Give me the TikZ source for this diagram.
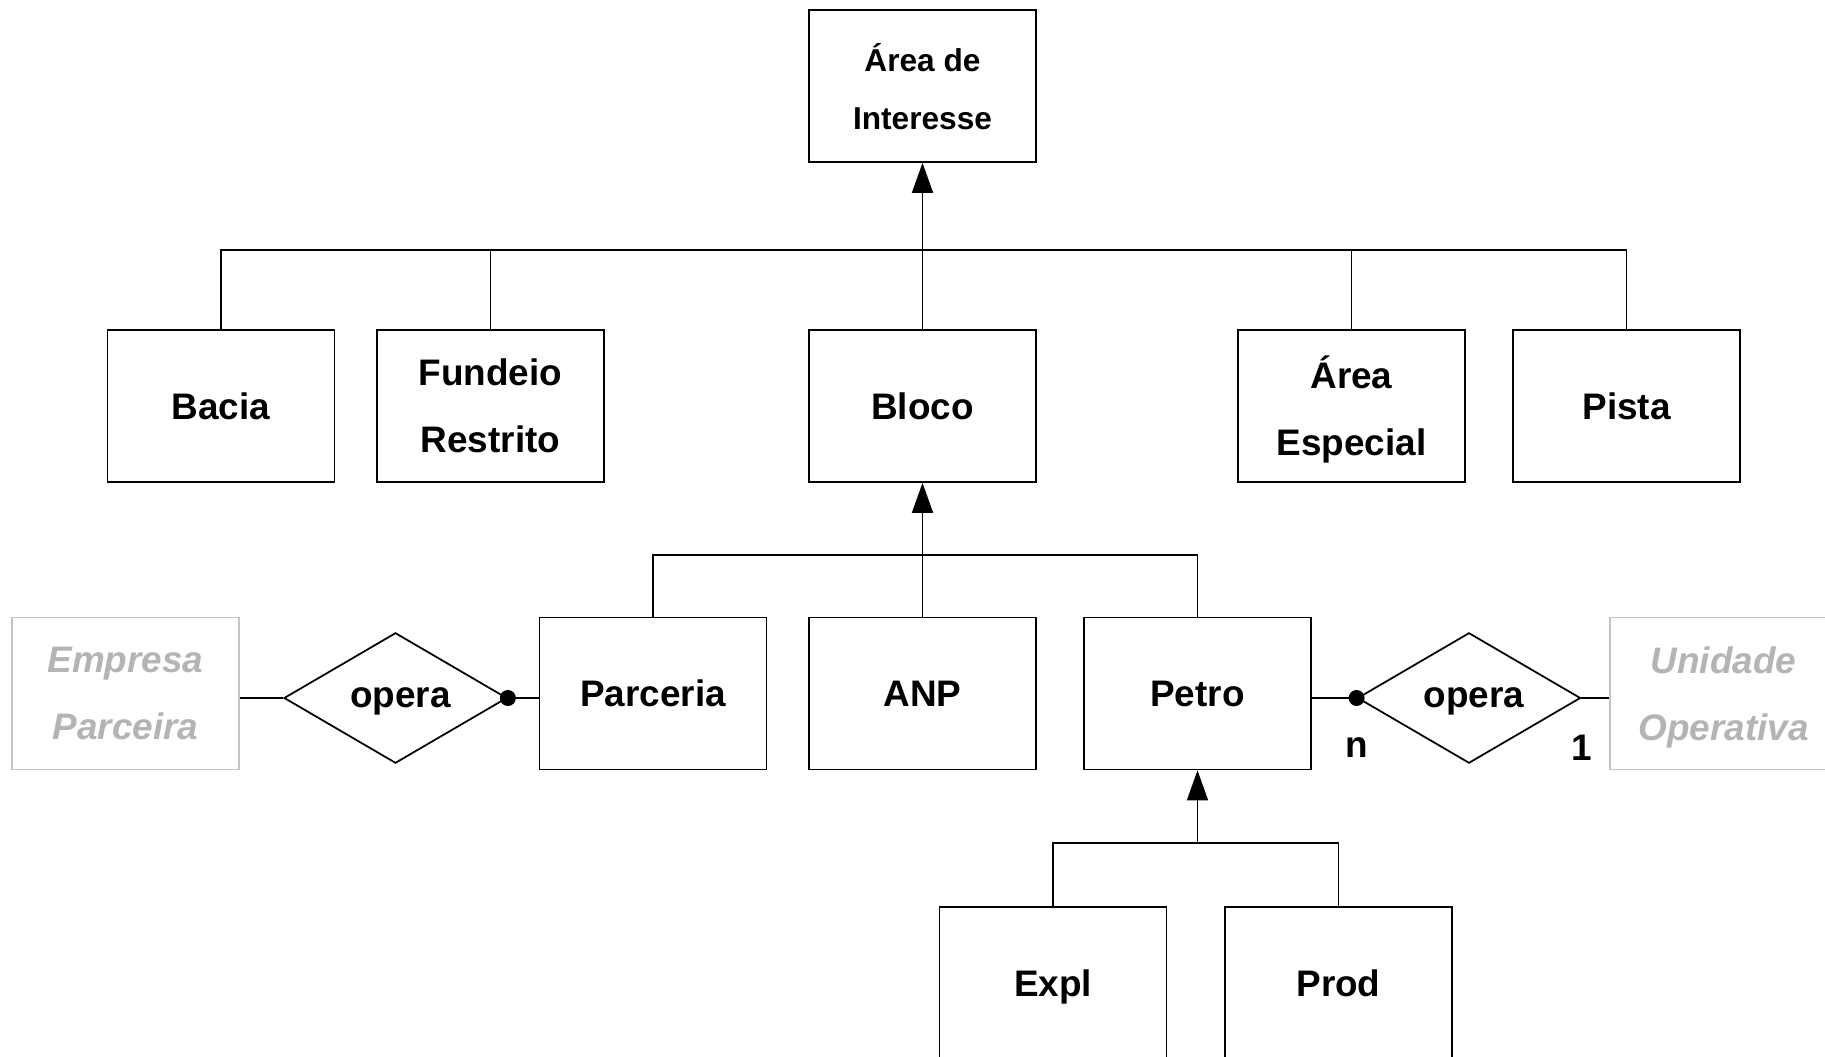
\documentclass[tikz,border=0pt]{standalone}
\usepackage{fontspec}
\setmainfont{Liberation Sans}
\usetikzlibrary{arrows.meta,shapes.geometric}
\definecolor{ghosttext}{HTML}{B4B4B4}
\definecolor{ghostline}{HTML}{C4C4C4}

\begin{document}
\begin{tikzpicture}[
    line width=1pt,
    entity/.style={draw, minimum width=4.54cm, minimum height=3.04cm, align=center, text depth=0pt,
      font=\bfseries\fontsize{21}{38}\selectfont},
    ghost/.style={entity, draw=ghostline, text=ghosttext,
      font=\bfseries\itshape\fontsize{21}{38}\selectfont},
    relation/.style={draw, diamond, minimum width=4.46cm, minimum height=2.56cm, inner sep=0pt,
      text depth=0pt, font=\bfseries\fontsize{21}{25}\selectfont},
    isa/.style={-{Triangle[length=0.6cm, width=0.42cm]}},
    card/.style={font=\bfseries\fontsize{21}{25}\selectfont},
    dot/.style={circle, fill=black, inner sep=0pt, minimum size=0.32cm}
  ]
  \useasboundingbox (0, 0) rectangle (36.5, 21.12);

  \node[entity, font=\bfseries\fontsize{18}{33}\selectfont] (area) at (18.45, 19.40) {Área de\\Interesse};

  \node[entity] (bacia) at (4.42, 13) {Bacia};
  \node[entity] (fundeio) at (9.81, 13) {Fundeio\\Restrito};
  \node[entity] (bloco) at (18.45, 13) {Bloco};
  \node[entity] (especial) at (27.03, 13) {Área\\Especial};
  \node[entity] (pista) at (32.53, 13) {Pista};

  \node[ghost] (empresa) at (2.51, 7.25) {Empresa\\Parceira};
  \node[relation] (opera1) at (7.91, 7.16) {\hspace{0.2cm}opera};
  \node[entity] (parceria) at (13.06, 7.25) {Parceria};
  \node[entity] (anp) at (18.45, 7.25) {ANP};
  \node[entity] (petro) at (23.95, 7.25) {Petro};
  \node[relation] (opera2) at (29.38, 7.16) {\hspace{0.2cm}opera};
  \node[ghost] (unidade) at (34.47, 7.25) {Unidade\\Operativa};

  \node[entity] (expl) at (21.06, 1.46) {Expl};
  \node[entity] (prod) at (26.77, 1.46) {Prod};

  \coordinate (bus1) at (18.45, 16.12);
  \coordinate (bus2) at (18.45, 10.02);
  \coordinate (bus3) at (23.95, 4.26);

  % generalisation buses
  \draw[isa] (bloco.north) -- (area.south);
  \draw (bacia.north) |- (bus1) -| (pista.north);
  \draw (fundeio.north) -- (fundeio.north |- bus1);
  \draw (especial.north) -- (especial.north |- bus1);

  \draw[isa] (anp.north) -- (bloco.south);
  \draw (parceria.north) |- (bus2) -| (petro.north);

  \draw[isa] (bus3) -- (petro.south);
  \draw (expl.north) |- (bus3) -| (prod.north);

  % relationships
  \draw (empresa.east |- opera1) -- (opera1.west);
  \draw (opera1.east) -- (parceria.west |- opera1);
  \node[dot] (dot1) at (opera1.east) {};

  \draw (petro.east |- opera2) -- (opera2.west);
  \draw (opera2.east) -- (unidade.west |- opera2);
  \node[dot] (dot2) at (opera2.west) {};

  \node[card] (cardn) at ([yshift=-1cm] opera2.west) {n};
  \node[card] (card1) at ([yshift=-1cm] opera2.east) {1};
\end{tikzpicture}
\end{document}
